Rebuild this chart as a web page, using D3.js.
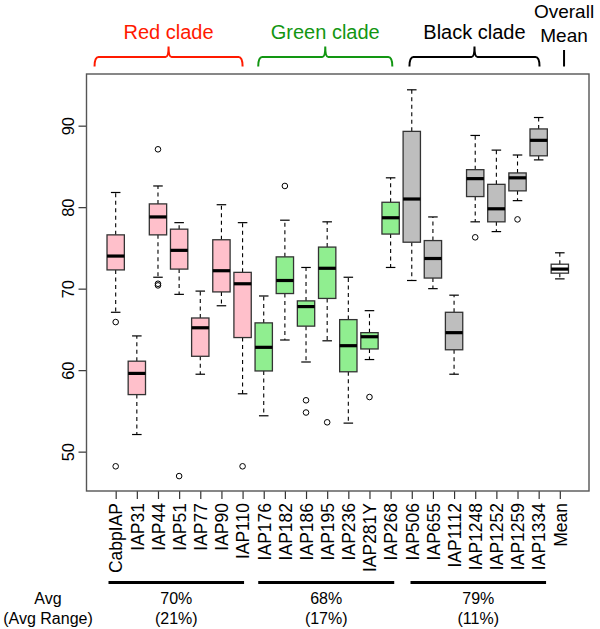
<!DOCTYPE html>
<html><head><meta charset="utf-8">
<script src="https://cdn.jsdelivr.net/npm/d3@7"></script>
<style>body{margin:0;background:#fff;} svg{display:block;font-family:"Liberation Sans",Arial,Helvetica,sans-serif;}</style>
</head><body>
<svg id="chart" width="600" height="629"></svg>
<script>
// ---- data ----
const categories = ["CabpIAP","IAP31","IAP44","IAP51","IAP77","IAP90","IAP110",
  "IAP176","IAP182","IAP186","IAP195","IAP236","IAP281Y","IAP268",
  "IAP506","IAP655","IAP1112","IAP1248","IAP1252","IAP1259","IAP1334","Mean"];
const clade = ["red","red","red","red","red","red","red",
  "green","green","green","green","green","green","green",
  "black","black","black","black","black","black","black","mean"];
const lowWhisker = [67.1,52.1,71.4,69.3,59.5,67.9,57.1, 54.4,63.7,61.0,63.6,53.5,61.3,72.6, 71.0,70.0,59.5,78.2,77.0,80.8,85.8, 71.2];
const q1         = [72.3,57.0,76.6,72.4,61.7,69.6,64.0, 59.9,69.4,65.4,68.8,59.8,62.6,76.7, 75.7,71.3,62.5,81.3,78.2,82.0,86.3, 71.9];
const median     = [74.0,59.6,78.8,74.7,65.2,72.2,70.6, 62.8,71.0,67.8,72.5,63.0,64.1,78.7, 81.0,73.7,64.6,83.5,79.8,83.6,88.2, 72.4];
const q3         = [76.6,61.1,80.4,77.3,66.4,76.0,72.0, 65.8,73.9,68.5,75.1,66.2,64.6,80.6, 89.3,75.9,67.1,84.6,82.8,84.2,89.6, 73.0];
const highWhisker= [81.8,64.2,82.6,78.1,69.7,80.3,78.1, 69.1,78.4,72.6,78.2,71.4,67.3,83.6, 94.4,78.8,69.2,88.8,87.0,86.4,91.0, 74.4];
const outliers = [[65.9,48.2],[],[87.1,70.6,70.4],[47.0],[],[],[48.2],
  [],[82.6],[56.3,54.8],[53.6],[],[56.7],[],
  [],[],[],[76.3],[],[78.5],[], []];
const yTicks = [50,60,70,80,90];
const cladeLabels = ["Red clade","Green clade","Black clade"];
const cladeBracketFrom = [0.0, 7.74, 14.89];   // in category units
const cladeBracketTo   = [7.0, 14.08, 21.04];
const avgLabels = ["70%","68%","79%"];
const rangeLabels = ["(21%)","(17%)","(11%)"];
const avgLineFrom = [0.66, 7.74, 14.94];
const avgLineTo   = [7.07, 14.17, 21.35];

// ---- styling ----
const fills = {red:"#FFC0CB", green:"#90EE90", black:"#BEBEBE", mean:"#FFFFFF"};
const cladeColors = ["#FF1A00","#129612","#000000"];

const svg = d3.select("#chart");
const L = 86.5, R = 589, T = 74, B = 491;
const x = d3.scaleLinear().domain([-0.38, 23.38]).range([L, R]);
const y = d3.scaleLinear().domain([45.17, 96.34]).range([B, T]);

const boxW = x(0.82) - x(0);
const stapleW = boxW * 0.55;

// axes
const ya = svg.append("g").attr("transform", `translate(${L},0)`)
  .call(d3.axisLeft(y).tickValues(yTicks).tickSize(8).tickFormat(d3.format("d")));
ya.select(".domain").remove();
ya.selectAll("line").attr("stroke","#333").attr("stroke-width",1.2);
ya.selectAll("text").attr("x",null).attr("dy",null).attr("fill","#000")
  .attr("font-size",16.5).attr("text-anchor","middle")
  .attr("transform","translate(-13,0) rotate(-90)");

const xa = svg.append("g").attr("transform", `translate(0,${B})`)
  .call(d3.axisBottom(x).tickValues(d3.range(1, categories.length+1)).tickSize(8)
    .tickFormat(d => categories[d-1]));
xa.select(".domain").remove();
xa.selectAll("line").attr("stroke","#333").attr("stroke-width",1.2);
xa.selectAll("text").attr("x",null).attr("y",null).attr("dy","0.36em").attr("fill","#000")
  .attr("font-size",17.5).attr("text-anchor","end")
  .attr("transform","translate(0,12) rotate(-90)");

// boxes
const g = svg.append("g");
categories.forEach((c, i) => {
  const cx = x(i+1);
  const gg = g.append("g");
  gg.append("line").attr("x1",cx).attr("x2",cx).attr("y1",y(q3[i])).attr("y2",y(highWhisker[i]))
    .attr("stroke","#000").attr("stroke-width",1.1).attr("stroke-dasharray","4,3.5");
  gg.append("line").attr("x1",cx).attr("x2",cx).attr("y1",y(q1[i])).attr("y2",y(lowWhisker[i]))
    .attr("stroke","#000").attr("stroke-width",1.1).attr("stroke-dasharray","4,3.5");
  [highWhisker[i], lowWhisker[i]].forEach(v => {
    gg.append("line").attr("x1",cx-stapleW/2).attr("x2",cx+stapleW/2).attr("y1",y(v)).attr("y2",y(v))
      .attr("stroke","#000").attr("stroke-width",1.2);
  });
  gg.append("rect").attr("x",cx-boxW/2).attr("width",boxW)
    .attr("y",y(q3[i])).attr("height",y(q1[i])-y(q3[i]))
    .attr("fill",fills[clade[i]]).attr("stroke","#333").attr("stroke-width",1.3);
  gg.append("line").attr("x1",cx-boxW/2).attr("x2",cx+boxW/2).attr("y1",y(median[i])).attr("y2",y(median[i]))
    .attr("stroke","#000").attr("stroke-width",3.2);
  outliers[i].forEach(v => {
    gg.append("circle").attr("cx",cx).attr("cy",y(v)).attr("r",2.8)
      .attr("fill","none").attr("stroke","#000").attr("stroke-width",1);
  });
});

// frame
svg.append("rect").attr("x",L).attr("y",T).attr("width",R-L).attr("height",B-T)
  .attr("fill","none").attr("stroke","#555").attr("stroke-width",1.4);

// clade brackets
const brTop = 57, brEnd = 66.5, brMid = 46.5;
cladeLabels.forEach((lab, k) => {
  const x0 = x(cladeBracketFrom[k]), x1 = x(cladeBracketTo[k]), xm = (x0+x1)/2;
  svg.append("path").attr("d",`M${x0},${brEnd} Q${x0},${brTop} ${x0+4},${brTop} L${xm-3},${brTop} Q${xm},${brTop} ${xm},${brMid} Q${xm},${brTop} ${xm+3},${brTop} L${x1-4},${brTop} Q${x1},${brTop} ${x1},${brEnd}`)
    .attr("fill","none").attr("stroke",cladeColors[k]).attr("stroke-width",2);
  svg.append("text").attr("x",xm).attr("y",39).attr("text-anchor","middle")
    .attr("font-size",20).attr("fill",cladeColors[k]).text(lab);
});
const mx = x(22.2);
svg.append("text").attr("x",mx).attr("y",18).attr("text-anchor","middle").attr("font-size",19).text("Overall");
svg.append("text").attr("x",mx).attr("y",42).attr("text-anchor","middle").attr("font-size",19).text("Mean");
svg.append("line").attr("x1",mx).attr("x2",mx).attr("y1",50).attr("y2",66.5).attr("stroke","#000").attr("stroke-width",2);

// bottom summary
avgLabels.forEach((lab, k) => {
  const x0 = x(avgLineFrom[k]), x1 = x(avgLineTo[k]), xm = (x0+x1)/2;
  svg.append("line").attr("x1",x0).attr("x2",x1).attr("y1",582.5).attr("y2",582.5)
    .attr("stroke","#000").attr("stroke-width",3);
  svg.append("text").attr("x",xm).attr("y",604).attr("text-anchor","middle").attr("font-size",16).text(lab);
  svg.append("text").attr("x",xm).attr("y",624).attr("text-anchor","middle").attr("font-size",16).text(rangeLabels[k]);
});
svg.append("text").attr("x",48).attr("y",604).attr("text-anchor","middle").attr("font-size",16).text("Avg");
svg.append("text").attr("x",48).attr("y",624).attr("text-anchor","middle").attr("font-size",16).text("(Avg Range)");
</script>
</body></html>
